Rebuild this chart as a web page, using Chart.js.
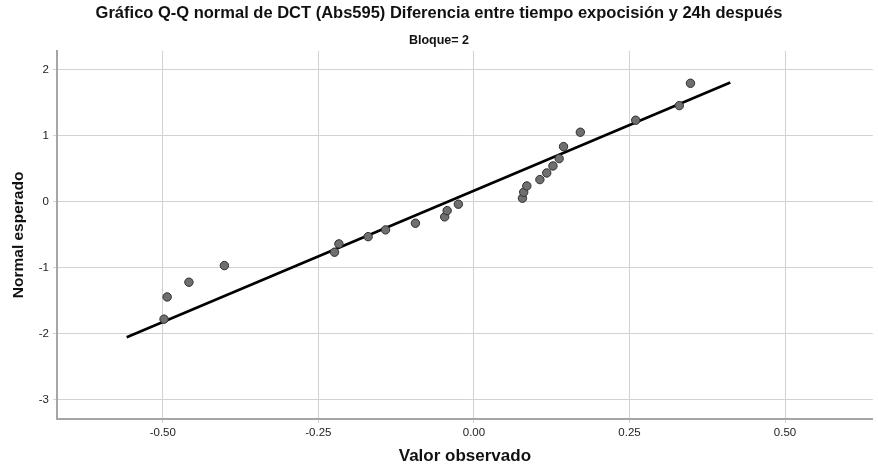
<!DOCTYPE html>
<html lang="es">
<head>
    <meta charset="UTF-8">
    <title>Gráfico Q-Q normal de DCT (Abs595)</title>
    <script src="https://cdn.jsdelivr.net/npm/chart.js"></script>
    <style>
        body {
            margin: 0;
            background: #ffffff;
        }
        #grafico {
            display: block;
        }
    </style>
</head>
<body>

<canvas id="grafico" width="878" height="469"></canvas>

<script>
const valorObservado = [-0.498, -0.493, -0.458, -0.401, -0.224, -0.217, -0.170, -0.142,
    -0.094, -0.047, -0.043, -0.025, 0.078, 0.080, 0.085, 0.106,
    0.117, 0.127, 0.137, 0.144, 0.171, 0.260, 0.330, 0.348];
const normalEsperado = [-1.777, -1.440, -1.217, -0.965, -0.762, -0.636, -0.527, -0.424,
    -0.323, -0.227, -0.132, -0.035, 0.056, 0.147, 0.242, 0.338,
    0.439, 0.545, 0.656, 0.838, 1.056, 1.238, 1.459, 1.798];

// Recta de referencia (extremos)
const rectaX = [-0.558, 0.412];
const rectaY = [-2.05, 1.81];

// Marcas de los ejes
const ticksX = [-0.50, -0.25, 0.00, 0.25, 0.50];
const ticksY = [-3, -2, -1, 0, 1, 2];

const fuente = "'Liberation Sans', Arial, sans-serif";

let ctx = document.getElementById('grafico').getContext('2d');
let chart = new Chart(ctx, {
    type: 'scatter',
    data: {
        datasets: [{
            label: 'Observado',
            data: valorObservado.map((v, i) => ({ x: v, y: normalEsperado[i] })),
            backgroundColor: '#6f6f6f',
            borderColor: '#2e2e2e',
            borderWidth: 1,
            pointRadius: 4.2,
            order: 1
        }, {
            label: 'Recta',
            type: 'line',
            data: rectaX.map((v, i) => ({ x: v, y: rectaY[i] })),
            borderColor: '#000000',
            borderWidth: 2.6,
            pointRadius: 0,
            fill: false,
            order: 2
        }]
    },
    options: {
        responsive: false,
        animation: false,
        events: [],
        layout: { padding: 0 },
        plugins: {
            legend: { display: false },
            tooltip: { enabled: false },
            title: {
                display: true,
                text: 'Gráfico Q-Q normal de DCT (Abs595) Diferencia entre tiempo expocisión y 24h después',
                color: '#111',
                font: { family: fuente, size: 16.5, weight: 'bold' },
                padding: { top: 4, bottom: 5 }
            },
            subtitle: {
                display: true,
                text: 'Bloque= 2',
                color: '#111',
                font: { family: fuente, size: 12.5, weight: 'bold' },
                padding: { top: 4, bottom: 3 }
            }
        },
        scales: {
            x: {
                type: 'linear',
                min: -0.670,
                max: 0.641,
                afterBuildTicks: (scale) => { scale.ticks = ticksX.map(v => ({ value: v })); },
                afterFit: (scale) => { scale.height = 50; },
                grid: { color: '#d2d2d2', lineWidth: 1, tickLength: 4 },
                border: { color: '#a6a6a6', width: 2 },
                ticks: {
                    color: '#222',
                    font: { family: fuente, size: 11.5 },
                    padding: 3,
                    callback: (v) => Number(v).toFixed(2)
                },
                title: {
                    display: true,
                    text: 'Valor observado',
                    color: '#111',
                    font: { family: fuente, size: 17, weight: 'bold' },
                    padding: { top: 0, bottom: 2 }
                }
            },
            y: {
                type: 'linear',
                min: -3.29,
                max: 2.29,
                afterBuildTicks: (scale) => { scale.ticks = ticksY.map(v => ({ value: v })); },
                afterFit: (scale) => { scale.width = 57; },
                grid: { color: '#d2d2d2', lineWidth: 1, tickLength: 4 },
                border: { color: '#a6a6a6', width: 2 },
                ticks: {
                    color: '#222',
                    font: { family: fuente, size: 11.5 },
                    padding: 4
                },
                title: {
                    display: true,
                    text: 'Normal esperado',
                    color: '#111',
                    font: { family: fuente, size: 15.5, weight: 'bold' },
                    padding: { top: 9, bottom: 0 }
                }
            }
        }
    }
});
</script>

</body>
</html>
